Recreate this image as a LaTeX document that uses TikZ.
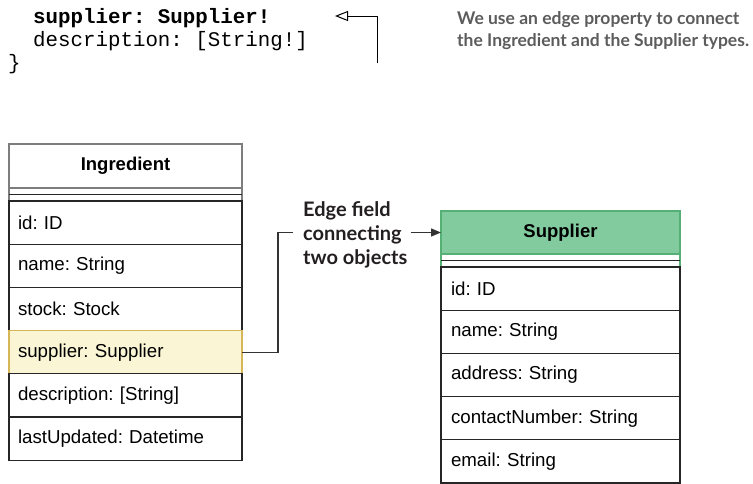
\documentclass[tikz,border=0pt]{standalone}
\usepackage{fontspec}
\setmainfont{Liberation Sans}
\newfontfamily\codefont{Liberation Mono}
\newfontfamily\calloutfont{Lato}
\frenchspacing
\usetikzlibrary{positioning,calc,arrows.meta}
\definecolor{hdrgreen}{RGB}{130,203,159}
\definecolor{hdrgreenline}{RGB}{84,176,116}
\definecolor{rowyellow}{RGB}{250,245,212}
\definecolor{rowyellowline}{RGB}{214,182,86}
\definecolor{hdrgray}{RGB}{125,125,125}
\definecolor{notegray}{RGB}{92,92,92}
\definecolor{inkdark}{RGB}{35,31,32}
\tikzset{
  fieldbase/.style={draw=black!85, line width=1.2pt, fill=white, minimum height=43.2pt,
    inner ysep=0pt, outer sep=0pt, align=left, font=\fontsize{18.7}{22}\selectfont},
  ingfield/.style={fieldbase, text width=215pt, inner xsep=9pt},
  supfield/.style={fieldbase, text width=219pt, inner xsep=10pt},
  yellowrow/.style={fill=rowyellow, draw=rowyellowline},
  hdrbox/.style={draw=hdrgray, line width=1.2pt, fill=white, inner sep=0pt, outer sep=0pt},
  hdrtitle/.style={hdrbox, font=\bfseries\fontsize{18.5}{22}\selectfont},
  sepline/.style={draw=black!85, line width=1.2pt},
  codeline/.style={inner sep=0pt, font=\codefont\fontsize{20.8}{23}\selectfont},
  notetext/.style={inner sep=0pt, align=left, text=notegray, font=\calloutfont\bfseries\fontsize{17.5}{22}\selectfont},
  edgelbl/.style={inner xsep=3pt, inner ysep=0pt, align=left, text=inkdark, font=\calloutfont\bfseries\fontsize{20}{24}\selectfont},
  link/.style={draw=black!80, line width=1.3pt}
}
\begin{document}
\begin{tikzpicture}[x=1pt,y=-1pt]
\useasboundingbox (0,0) rectangle (753,483);
\node[codeline, anchor=base west, font=\codefont\bfseries\fontsize{20.8}{23}\selectfont] (codesup) at (33,23) {supplier: Supplier!};
\node[codeline, anchor=base west] (codedesc) at (33,46) {description: [String!]};
\node[codeline, anchor=base west] (codeclose) at (8,69) {\}};
\node[notetext, anchor=west] (note) at (457,31) {We use an edge property to connect\\the Ingredient and the Supplier types.};
\coordinate (bartop) at (377,16); \coordinate (barbot) at (377,63); \coordinate (notetip) at (335,16);
\draw[line width=1pt, -{Triangle[open,length=13pt,width=10pt]}] (barbot) -- (bartop) -- (notetip);

\node[hdrbox, minimum width=233pt, minimum height=57pt, anchor=north west] (ingbox) at (9,144) {};
\node[hdrtitle, minimum width=233pt, minimum height=44pt, anchor=north west] (ingtitle) at (9,144) {Ingredient};
\draw[sepline] ($(ingtitle.south west)!.5!(ingbox.south west)$) -- ($(ingtitle.south east)!.5!(ingbox.south east)$);
\node[ingfield, below=0pt of ingbox] (ingid) {id: ID};
\node[ingfield, below=0pt of ingid] (ingname) {name: String};
\node[ingfield, below=0pt of ingname] (ingstock) {stock: Stock};
\node[ingfield, yellowrow, below=0pt of ingstock] (ingsup) {supplier: Supplier};
\node[ingfield, below=0pt of ingsup] (ingdesc) {description: [String]};
\node[ingfield, below=0pt of ingdesc] (ingupd) {lastUpdated: Datetime};

\node[hdrbox, draw=hdrgreenline, minimum width=239pt, minimum height=56pt, anchor=north west] (supbox) at (441,211) {};
\node[hdrtitle, fill=hdrgreen, draw=hdrgreenline, minimum width=239pt, minimum height=43pt, anchor=north west] (suptitle) at (441,211) {Supplier};
\draw[sepline] ($(suptitle.south west)!.5!(supbox.south west)$) -- ($(suptitle.south east)!.5!(supbox.south east)$);
\node[supfield, below=0pt of supbox] (supid) {id: ID};
\node[supfield, below=0pt of supid] (supname) {name: String};
\node[supfield, below=0pt of supname] (supaddr) {address: String};
\node[supfield, below=0pt of supaddr] (supcontact) {contactNumber: String};
\node[supfield, below=0pt of supcontact] (supemail) {email: String};

\node[edgelbl, anchor=west] (edgelbl) at (300,235) {Edge field\\connecting\\two objects};
\draw[link, shorten >=7pt] (ingsup.east) -- ++(36,0) |- (edgelbl.west |- suptitle.west);
\draw[link, -{Triangle[length=10pt,width=8pt]}] (edgelbl.east |- suptitle.west) -- (suptitle.west);
\end{tikzpicture}
\end{document}
